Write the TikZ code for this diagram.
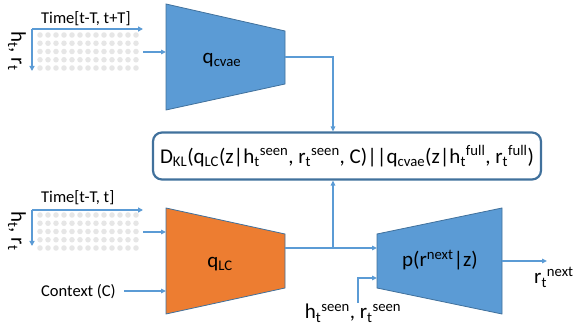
\documentclass[tikz,border=0pt]{standalone}
\usepackage{fontspec}
\setmainfont{Carlito}
\usetikzlibrary{arrows.meta}
\definecolor{fillblue}{HTML}{5B9BD5}
\definecolor{edgeblue}{HTML}{41719C}
\definecolor{lineblue}{HTML}{5B9BD5}
\definecolor{orangeq}{HTML}{ED7D31}
\definecolor{dotgray}{HTML}{E6E6E6}
\newcommand{\bigf}{\fontsize{21}{25}\selectfont}
\newcommand{\smallf}{\fontsize{16.5}{20}\selectfont}
\begin{document}
\begin{tikzpicture}[x=1pt,y=-1pt,
  conn/.style={draw=lineblue, line width=1.4pt, -{Triangle[length=5pt,width=4.5pt]}},
  axisarrow/.style={draw=lineblue, line width=1.8pt, -{Triangle[length=5pt,width=5pt]}},
  trap/.style={draw=edgeblue, line width=0.8pt},
  biglbl/.style={inner sep=0pt, font=\bigf},
  smalllbl/.style={inner sep=0pt, font=\smallf},
  dotstyle/.style={fill=dotgray, draw=none}]
\useasboundingbox (0,0) rectangle (574,334);

% ---------- grids ----------
\foreach \gy in {35,215} {
  \foreach \i in {0,...,12} {
    \foreach \j in {0,...,4} {
      \fill[dotstyle] (40+8*\i, \gy+8.25*\j) circle (2.8pt);
    }
  }
}

% top grid axes
\coordinate (o1) at (32,29);
\coordinate (o1x) at (143,29);
\coordinate (o1y) at (32,71);
\draw[axisarrow] (o1) -- (o1x);
\draw[axisarrow] (o1) -- (o1y);
\node[smalllbl, anchor=base west] (time1) at (41,24) {Time[t-T, t+T]};
\node[biglbl, rotate=-90] (hr1) at (17,51) {h\textsubscript{t}, r\textsubscript{t}};

% bottom grid axes
\coordinate (o2) at (32,210);
\coordinate (o2x) at (143,210);
\coordinate (o2y) at (32,246);
\draw[axisarrow] (o2) -- (o2x);
\draw[axisarrow] (o2) -- (o2y);
\node[smalllbl, anchor=base west] (time2) at (41,203) {Time[t-T, t]};
\node[biglbl, rotate=-90] (hr2) at (17,231) {h\textsubscript{t}, r\textsubscript{t}};

% context
\node[smalllbl, anchor=base west] (ctx) at (41,297) {Context (C)};

% ---------- trapezoids ----------
\filldraw[trap, fill=fillblue] (166,4) -- (285,31) -- (285,84) -- (166,110) -- cycle;
\node[biglbl] (qcv) at (222,60) {q\textsubscript{cvae}};
\filldraw[trap, fill=orangeq] (166,208) -- (285,234) -- (285,288) -- (166,314) -- cycle;
\node[biglbl] (qlc) at (220,264) {q\textsubscript{LC}};
\filldraw[trap, fill=fillblue] (377,234) -- (502,208) -- (502,314) -- (377,288) -- cycle;
\node[biglbl] (pn) at (440,260) {p(r\textsuperscript{next}|z)};

% ---------- KL box ----------
\node[draw=edgeblue, line width=2.2pt, rounded corners=9pt, minimum width=388pt, minimum height=47pt, inner sep=0pt, font=\bigf] (kl) at (347,156)
 {D\textsubscript{KL}(q\textsubscript{LC}(z|h\textsubscript{t}\textsuperscript{seen}, r\textsubscript{t}\textsuperscript{seen}, C)||q\textsubscript{cvae}(z|h\textsubscript{t}\textsuperscript{full}, r\textsubscript{t}\textsuperscript{full})};

% ---------- connectors ----------
\coordinate (g1out) at (143,52);
\coordinate (qcin) at (166,52);
\draw[conn] (g1out) -- (qcin);
\coordinate (qcout) at (285,57);
\coordinate (jx) at (333,248);
\draw[conn] (qcout) -| (kl.north -| jx);

\coordinate (g2out) at (143,232);
\coordinate (lcin1) at (166,232);
\draw[conn] (g2out) -- (lcin1);
\coordinate (ctxend) at (124,291);
\coordinate (lcin2) at (166,291);
\draw[conn] (ctxend) -- (lcin2);

\coordinate (lcout) at (285,248);
\coordinate (pin1) at (377,248);
\draw[conn] (lcout) -- (pin1);
\draw[conn] (jx) -- (kl.south -| jx);

\coordinate (hs) at (358,303);
\coordinate (pin2) at (377,278);
\draw[conn] (hs) |- (pin2);
\node[biglbl, anchor=base] (hsl) at (353,319) {h\textsubscript{t}\textsuperscript{seen}, r\textsubscript{t}\textsuperscript{seen}};

\coordinate (pout) at (502,261);
\coordinate (rnend) at (547,261);
\draw[conn] (pout) -- (rnend);
\node[biglbl, anchor=base west] (rn) at (534,284) {r\textsubscript{t}\textsuperscript{next}};
\end{tikzpicture}
\end{document}
